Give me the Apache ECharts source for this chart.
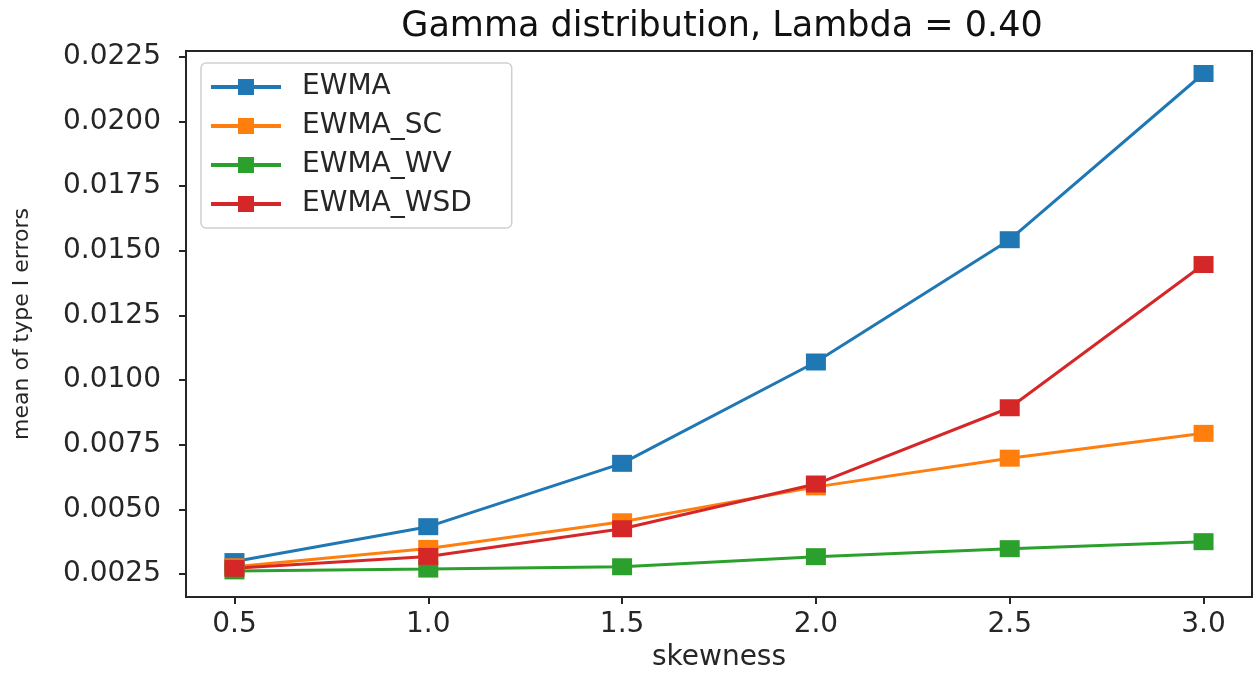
<!DOCTYPE html>
<html>
<head>
<meta charset="utf-8">
<script src="https://cdn.jsdelivr.net/npm/echarts@6/dist/echarts.min.js"></script>
<style>html,body{margin:0;padding:0;background:#fff}#c{width:1259px;height:675px}</style>
</head>
<body>
<div id="c"></div>
<script>
const skewness = [0.5, 1.0, 1.5, 2.0, 2.5, 3.0];
const ewma     = [0.00298, 0.00433, 0.00678, 0.01070, 0.01543, 0.02186];
const ewmaSC   = [0.00278, 0.00349, 0.00452, 0.00587, 0.00698, 0.00794];
const ewmaWV   = [0.00262, 0.00269, 0.00278, 0.00317, 0.00348, 0.00375];
const ewmaWSD  = [0.00272, 0.00318, 0.00425, 0.00598, 0.00893, 0.01447];
const seriesNames = ['EWMA', 'EWMA_SC', 'EWMA_WV', 'EWMA_WSD'];
const xTickLabels = ['0.5', '1.0', '1.5', '2.0', '2.5', '3.0'];
const yTickLabels = ['0.0025', '0.0050', '0.0075', '0.0100', '0.0125', '0.0150', '0.0175', '0.0200', '0.0225'];
const titleText = 'Gamma distribution, Lambda = 0.40';
const xName = 'skewness';
const yName = 'mean of type I errors';

const colors = ['#1f77b4', '#ff7f0e', '#2ca02c', '#d62728'];
const allData = [ewma, ewmaSC, ewmaWV, ewmaWSD];
const FONT = 'DejaVu Sans';
const TXT = '#262626';

const chart = echarts.init(document.getElementById('c'), null, {renderer: 'canvas'});
chart.setOption({
  animation: false,
  backgroundColor: '#fff',
  color: colors,
  title: {
    text: titleText, left: 717, top: 4, textAlign: 'center',
    textStyle: {fontFamily: FONT, fontSize: 35, fontWeight: 'normal', color: '#111'}
  },
  grid: {left: 186, right: 7, top: 51, bottom: 78, outerBoundsMode: 'none', containLabel: false,
    show: true, borderColor: '#262626', borderWidth: 2, backgroundColor: 'transparent'},
  legend: {
    orient: 'vertical', left: 201, top: 63,
    data: seriesNames,
    itemWidth: 70, itemHeight: 20, itemGap: 11,
    padding: [10, 40, 10, 8],
    borderColor: '#d0d0d0', borderWidth: 1.5, borderRadius: 5,
    backgroundColor: 'rgba(255,255,255,0.8)',
    lineStyle: {width: 4},
    textStyle: {fontFamily: FONT, fontSize: 28, lineHeight: 20, color: TXT, padding: [0, 0, 0, 16]}
  },
  xAxis: {
    type: 'value', min: 0.375, max: 3.125,
    name: xName, nameLocation: 'middle', nameGap: 44,
    nameTextStyle: {fontFamily: FONT, fontSize: 28, color: TXT},
    axisLine: {show: true, onZero: false, lineStyle: {color: '#262626', width: 2}},
    axisTick: {show: true, length: 7, lineStyle: {color: '#262626', width: 2}, customValues: xTickLabels.map(Number)},
    axisLabel: {fontFamily: FONT, fontSize: 28, color: TXT, margin: 14, customValues: xTickLabels.map(Number),
      formatter: v => xTickLabels.find(t => Math.abs(Number(t) - v) < 1e-9) || ''},
    splitLine: {show: false}
  },
  yAxis: {
    type: 'value', min: 0.00161, max: 0.02273,
    name: yName, nameLocation: 'middle', nameGap: 153, nameRotate: 90,
    nameTextStyle: {fontFamily: FONT, fontSize: 22, color: TXT},
    axisLine: {show: true, onZero: false, lineStyle: {color: '#262626', width: 2}},
    axisTick: {show: true, length: 7, lineStyle: {color: '#262626', width: 2}, customValues: yTickLabels.map(Number)},
    axisLabel: {fontFamily: FONT, fontSize: 28, color: TXT, margin: 25, customValues: yTickLabels.map(Number),
      formatter: v => yTickLabels.find(t => Math.abs(Number(t) - v) < 1e-9) || ''},
    splitLine: {show: false}
  },
  series: seriesNames.map((n, i) => ({
    name: n, type: 'line',
    data: skewness.map((x, j) => [x, allData[i][j]]),
    symbol: 'rect', symbolSize: [20, 17],
    lineStyle: {width: 3, color: colors[i]},
    itemStyle: {color: colors[i]},
    emphasis: {disabled: true}
  }))
});
</script>
</body>
</html>
